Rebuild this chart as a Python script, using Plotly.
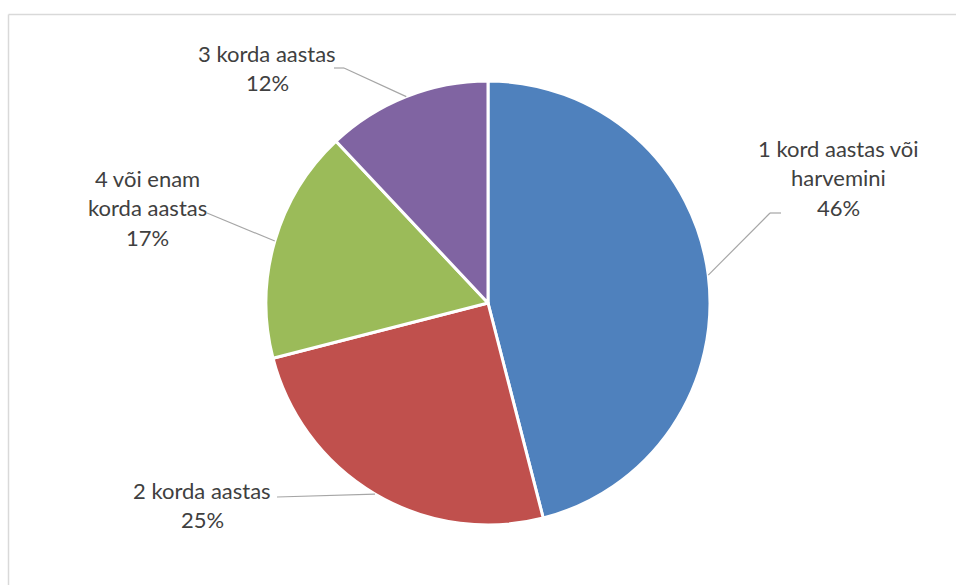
import math
import plotly.graph_objects as go

# Survey answers: how often per year
categories = ["1 kord aastas või harvemini", "2 korda aastas", "4 või enam korda aastas", "3 korda aastas"]
label_lines = [
    ["1 kord aastas või", "harvemini"],
    ["2 korda aastas"],
    ["4 või enam", "korda aastas"],
    ["3 korda aastas"],
]
shares = [46, 25, 17, 12]
colors = ["#4F81BD", "#C0504D", "#9BBB59", "#8064A2"]

W, H = 956, 585
CX, CY, R = 488, 303, 222  # pie centre and radius in pixels

# label block anchor (centre x, first-line y) and leader-line elbow per slice
label_pos = [(838, 148), (202, 490), (147, 178), (267, 53)]
elbows = [[(770, 213), (781, 213)], [(277, 497)], [(207, 213)], [(344, 68), (334, 68)]]

LINE_H = 29.5
FONT = dict(family="Lato, Open Sans, sans-serif", size=22, color="#404040")


def px(x):
    return x / W


def py(y):
    return 1 - y / H


fig = go.Figure(
    go.Pie(
        labels=categories,
        values=shares,
        sort=False,
        direction="clockwise",
        rotation=0,
        marker=dict(colors=colors, line=dict(color="white", width=3)),
        textinfo="none",
        hoverinfo="label+percent",
        domain=dict(x=[px(CX - R), px(CX + R)], y=[py(CY + R), py(CY - R)]),
        showlegend=False,
    )
)

annotations = []
shapes = []
total = sum(shares)
cum = 0
for i, v in enumerate(shares):
    mid = (cum + v / 2) / total * 2 * math.pi
    cum += v
    # point on the rim at the slice's middle angle (clockwise from 12 o'clock)
    sx = CX + R * math.sin(mid)
    sy = CY - R * math.cos(mid)
    pts = [(sx, sy)] + elbows[i]
    for (x0, y0), (x1, y1) in zip(pts[:-1], pts[1:]):
        shapes.append(dict(type="line", xref="paper", yref="paper",
                           x0=px(x0), y0=py(y0), x1=px(x1), y1=py(y1),
                           line=dict(color="#A6A6A6", width=1.2)))
    lx, ly = label_pos[i]
    lines = label_lines[i] + [f"{round(v / total * 100)}%"]
    for k, t in enumerate(lines):
        annotations.append(dict(text=t, x=px(lx), y=py(ly + k * LINE_H),
                                xref="paper", yref="paper", showarrow=False,
                                xanchor="center", yanchor="middle", font=FONT))

# chart area frame (top and left edges)
shapes.append(dict(type="line", xref="paper", yref="paper", x0=px(8.5), y0=py(14.5),
                   x1=1.0, y1=py(14.5), line=dict(color="#D9D9D9", width=1.5)))
shapes.append(dict(type="line", xref="paper", yref="paper", x0=px(8.5), y0=py(14.5),
                   x1=px(8.5), y1=0.0, line=dict(color="#D9D9D9", width=1.5)))

fig.update_layout(
    width=W, height=H,
    margin=dict(l=0, r=0, t=0, b=0),
    paper_bgcolor="white",
    plot_bgcolor="white",
    annotations=annotations,
    shapes=shapes,
)

fig.write_html("out.html")
